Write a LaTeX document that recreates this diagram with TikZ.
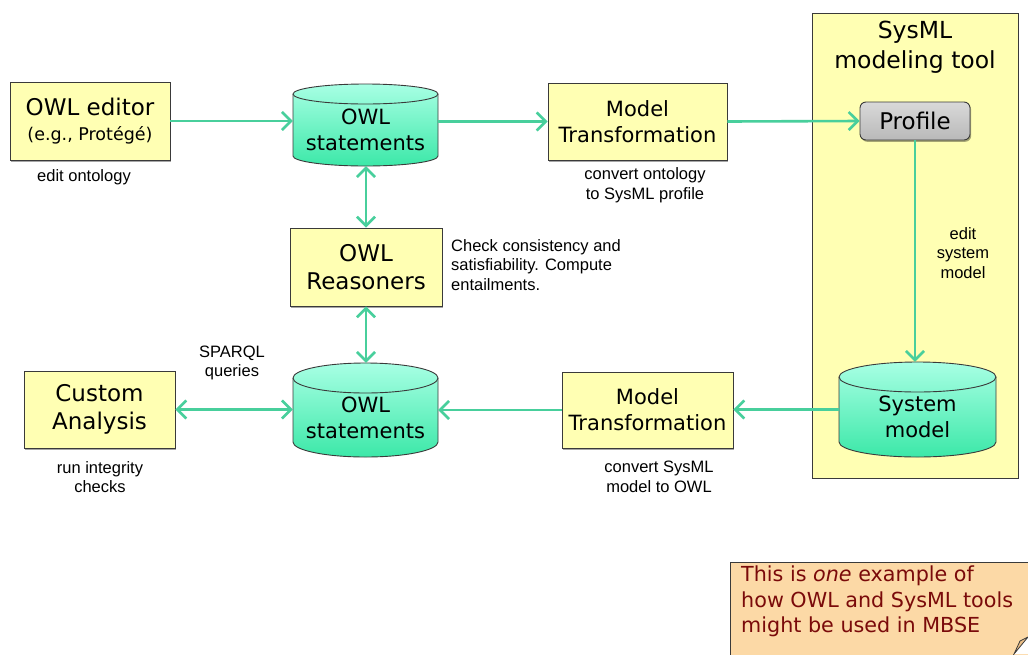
\documentclass[tikz,border=0pt]{standalone}
\usepackage{fontspec}
\setmainfont{DejaVu Sans}
\newfontfamily\smallfont{Liberation Sans}
\usetikzlibrary{arrows.meta,shadows}
\definecolor{boxfill}{HTML}{FFFFB3}
\definecolor{arrowc}{HTML}{48CF9C}
\definecolor{cyltop}{HTML}{A8FFE4}
\definecolor{cylbot}{HTML}{3CE8A8}
\definecolor{notefill}{HTML}{FCD9A6}
\definecolor{notetext}{HTML}{7A0A0A}
\definecolor{edgec}{HTML}{3A3A3A}
\tikzset{
  box/.style={draw=edgec, line width=0.9pt, fill=boxfill, inner sep=0pt, align=center,
    font=\fontsize{23}{28}\selectfont,
    drop shadow={shadow xshift=1.2pt, shadow yshift=-1.8pt, opacity=0.35, fill=black}},
  cylbody/.style={draw=edgec, line width=0.9pt, top color=cyltop, bottom color=cylbot},
  cyledge/.style={draw=edgec, line width=0.9pt},
  cylnode/.style={inner sep=0pt, draw=none},
  cyltext/.style={align=center, font=\fontsize{21}{26}\selectfont},
  lbl/.style={align=center, font=\smallfont\fontsize{16.5}{19.5}\selectfont, inner sep=0pt},
  flow/.style={draw=arrowc, line width=2.6pt, -{Straight Barb[length=9pt,width=18pt]}},
  flow2/.style={draw=arrowc, line width=2.6pt, {Straight Barb[length=9pt,width=18pt]}-{Straight Barb[length=9pt,width=18pt]}},
}
% name, cx, cy, rx, halfheight, ry, text
\newcommand\drawcyl[7]{%
  \path[cylbody] (#2-#4,#3+#5-#6) -- (#2-#4,#3-#5+#6)
     arc[start angle=180,end angle=360,x radius=#4pt,y radius=#6pt]
     -- (#2+#4,#3+#5-#6)
     arc[start angle=0,end angle=180,x radius=#4pt,y radius=#6pt] -- cycle;
  \draw[cyledge] (#2-#4,#3+#5-#6) arc[start angle=180,end angle=360,x radius=#4pt,y radius=#6pt];
  \node[cylnode, minimum width=2*#4pt, minimum height=2*#5pt] (#1) at (#2,#3) {};
  \node[cyltext] at (#2,#3-#6/2) {#7};
}
\begin{document}
\begin{tikzpicture}[x=1pt,y=1pt]
\useasboundingbox (0,0) rectangle (1028,-654);
\fill[white] (0,0) rectangle (1028,-654);

% SysML tool container
\node[draw=edgec, line width=0.9pt, fill=boxfill, minimum width=206pt, minimum height=465pt, inner sep=0pt] (sys) at (915,-245.5) {};
\node[align=center, font=\fontsize{23.5}{30}\selectfont] (systitle) at (915,-47) {SysML\\modeling tool};

% boxes
\node[box, minimum width=160pt, minimum height=78pt] (ed) at (90,-121)
  {OWL editor\\[-3pt]{\fontsize{17.5}{21}\selectfont (e.g., Protégé)}};
\node[box, minimum width=179pt, minimum height=77pt, font=\fontsize{21}{26}\selectfont] (mt1) at (637.5,-121.5) {Model\\Transformation};
\node[box, minimum width=152pt, minimum height=78pt] (rs) at (366,-267) {OWL\\Reasoners};
\node[box, minimum width=151pt, minimum height=77pt] (ca) at (99.5,-409.5) {Custom\\Analysis};
\node[box, minimum width=171pt, minimum height=76pt, font=\fontsize{21}{26}\selectfont] (mt2) at (647.5,-410) {Model\\Transformation};
\node[draw=edgec, line width=0.9pt, rounded corners=6pt, top color=gray!30, bottom color=gray!55,
  minimum width=110pt, minimum height=38pt, inner sep=0pt, font=\fontsize{23}{28}\selectfont,
  drop shadow={shadow xshift=1.2pt, shadow yshift=-1.8pt, opacity=0.35, fill=black}] (prof) at (915,-121) {Profile};

% cylinders
\drawcyl{c1}{365.5}{-125}{72.5}{41}{10}{OWL\\statements}
\drawcyl{c2}{365.5}{-410}{72.5}{47}{15}{OWL\\statements}
\drawcyl{c3}{917.5}{-409.5}{78.5}{47.5}{15}{System\\model}

% connectors
\draw[flow] (ed.east) -- (ed.east -| c1.west);
\draw[flow] (c1.east |- mt1.west) -- (mt1.west);
\draw[flow] (mt1.east) -- (prof.west);
\draw[flow] (prof.south) -- (prof.south |- c3.north);
\draw[flow] (c3.west) -- (c3.west -| mt2.east);
\draw[flow] (mt2.west) -- (mt2.west -| c2.east);
\draw[flow2] (ca.east) -- (ca.east -| c2.west);
\draw[flow2] (rs.north |- c1.south) -- (rs.north);
\draw[flow2] (rs.south) -- (rs.south |- c2.north);

% labels
\node[lbl] (l1) at (84,-177) {edit ontology};
\node[lbl] (l2) at (645,-185) {convert ontology\\to SysML profile};
\node[lbl, align=left, anchor=west] (l3) at (451,-265) {Check consistency and\\satisfiability. Compute\\entailments.};
\node[lbl] (l4) at (232,-363) {SPARQL\\queries};
\node[lbl] (l5) at (100,-477) {run integrity\\checks};
\node[lbl] (l6) at (659,-477) {convert SysML\\model to OWL};
\node[lbl] (l7) at (963,-253) {edit\\system\\model};

% note
\path[fill=notefill] (730,-562) rectangle (1030,-656);
\draw[edgec, line width=1pt] (730,-656) -- (730,-562) -- (1030,-562);
\fill[white] (1014,-654) -- (1028,-637) -- (1028,-654) -- cycle;
\draw[edgec, line width=0.8pt, fill=notefill!70!brown] (1014,-654) -- (1020,-641) -- (1028,-637) -- cycle;
\node[anchor=north west, align=left, inner sep=0pt, text=notetext, font=\fontsize{20.7}{25.5}\selectfont] (note) at (741,-566)
  {This is \textit{one} example of\\how OWL and SysML tools\\might be used in MBSE};
\end{tikzpicture}
\end{document}
